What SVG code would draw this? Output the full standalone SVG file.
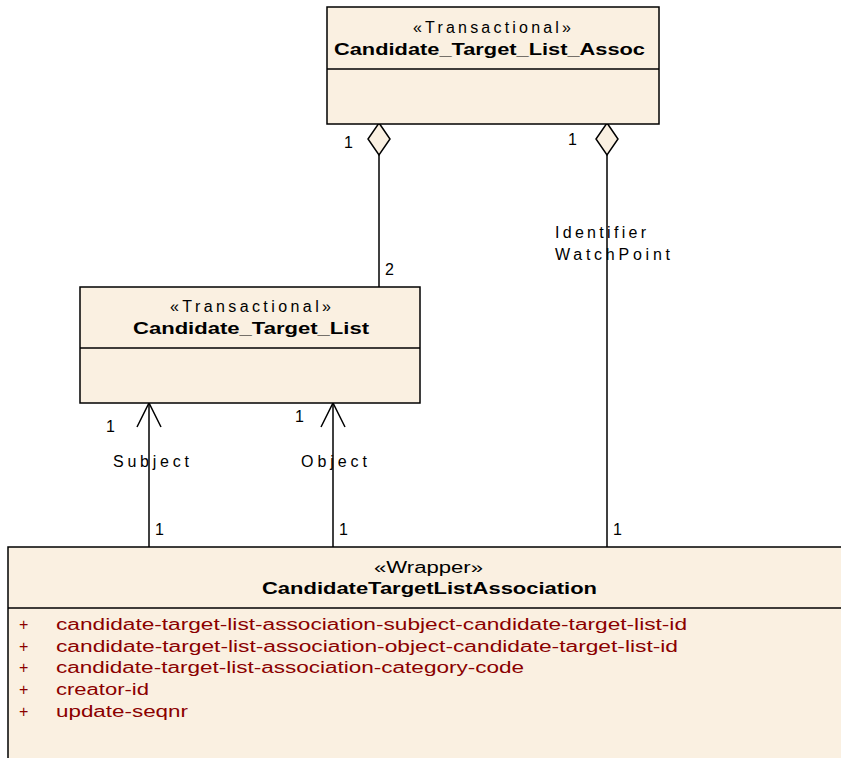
<svg xmlns="http://www.w3.org/2000/svg" width="841" height="758" viewBox="0 0 841 758">
<style>
.box{fill:#FAF0E1;stroke:#000;stroke-width:1.5}
.ln{stroke:#000;stroke-width:1.5;fill:none}
.t{font-family:"Liberation Sans",Arial,sans-serif;font-size:16px;fill:#000}
.b{font-weight:bold}
.a{font-family:"Liberation Sans",Arial,sans-serif;font-size:16px;fill:#8B0000}
</style>
<rect width="841" height="758" fill="#fff"/>
<g id="connectors">
<line class="ln" x1="379" y1="155" x2="379" y2="287"/>
<path class="box" d="M379,123 L390,139 L379,155 L368,139 Z"/>
<line class="ln" x1="607" y1="155" x2="607" y2="547"/>
<path class="box" d="M607,123 L618,139 L607,155 L596,139 Z"/>
<line class="ln" x1="149" y1="547" x2="149" y2="403"/>
<path class="ln" d="M137,427 L149,403 L161,427"/>
<line class="ln" x1="333" y1="547" x2="333" y2="403"/>
<path class="ln" d="M321,427 L333,403 L345,427"/>
<text class="t" x="344" y="148">1</text>
<text class="t" x="568" y="145">1</text>
<text class="t" x="385" y="275">2</text>
<text class="t" x="555" y="238" textLength="91" lengthAdjust="spacing">Identifier</text>
<text class="t" x="555" y="260" textLength="115" lengthAdjust="spacing">WatchPoint</text>
<text class="t" x="106" y="432">1</text>
<text class="t" x="295" y="422">1</text>
<text class="t" x="113" y="467" textLength="76" lengthAdjust="spacing">Subject</text>
<text class="t" x="301" y="467" textLength="66" lengthAdjust="spacing">Object</text>
<text class="t" x="155" y="535">1</text>
<text class="t" x="339" y="535">1</text>
<text class="t" x="613" y="535">1</text>
</g>
<g id="Candidate_Target_List_Assoc">
<rect class="box" x="327" y="7" width="332" height="117"/>
<line class="ln" x1="327" y1="69" x2="659" y2="69"/>
<text class="t" x="413" y="33" textLength="158" lengthAdjust="spacing">«Transactional»</text>
<text class="t b" x="334" y="55" textLength="311" lengthAdjust="spacingAndGlyphs">Candidate_Target_List_Assoc</text>
</g>
<g id="Candidate_Target_List">
<rect class="box" x="80" y="287" width="340" height="116"/>
<line class="ln" x1="80" y1="348" x2="420" y2="348"/>
<text class="t" x="170" y="312" textLength="161" lengthAdjust="spacing">«Transactional»</text>
<text class="t b" x="133" y="334" textLength="236" lengthAdjust="spacingAndGlyphs">Candidate_Target_List</text>
</g>
<g id="CandidateTargetListAssociation">
<rect class="box" x="8" y="547" width="850" height="230"/>
<line class="ln" x1="8" y1="608" x2="858" y2="608"/>
<text class="t" x="374" y="573" textLength="109" lengthAdjust="spacingAndGlyphs">«Wrapper»</text>
<text class="t b" x="262" y="594" textLength="335" lengthAdjust="spacingAndGlyphs">CandidateTargetListAssociation</text>
<text class="a" x="19" y="630">+</text>
<text class="a" x="19" y="652">+</text>
<text class="a" x="19" y="673">+</text>
<text class="a" x="19" y="695">+</text>
<text class="a" x="19" y="717">+</text>
<text class="a" x="56" y="630" textLength="631" lengthAdjust="spacingAndGlyphs">candidate-target-list-association-subject-candidate-target-list-id</text>
<text class="a" x="56" y="652" textLength="622" lengthAdjust="spacingAndGlyphs">candidate-target-list-association-object-candidate-target-list-id</text>
<text class="a" x="56" y="673" textLength="468" lengthAdjust="spacingAndGlyphs">candidate-target-list-association-category-code</text>
<text class="a" x="56" y="695" textLength="93" lengthAdjust="spacingAndGlyphs">creator-id</text>
<text class="a" x="56" y="717" textLength="132" lengthAdjust="spacingAndGlyphs">update-seqnr</text>
</g>
</svg>
